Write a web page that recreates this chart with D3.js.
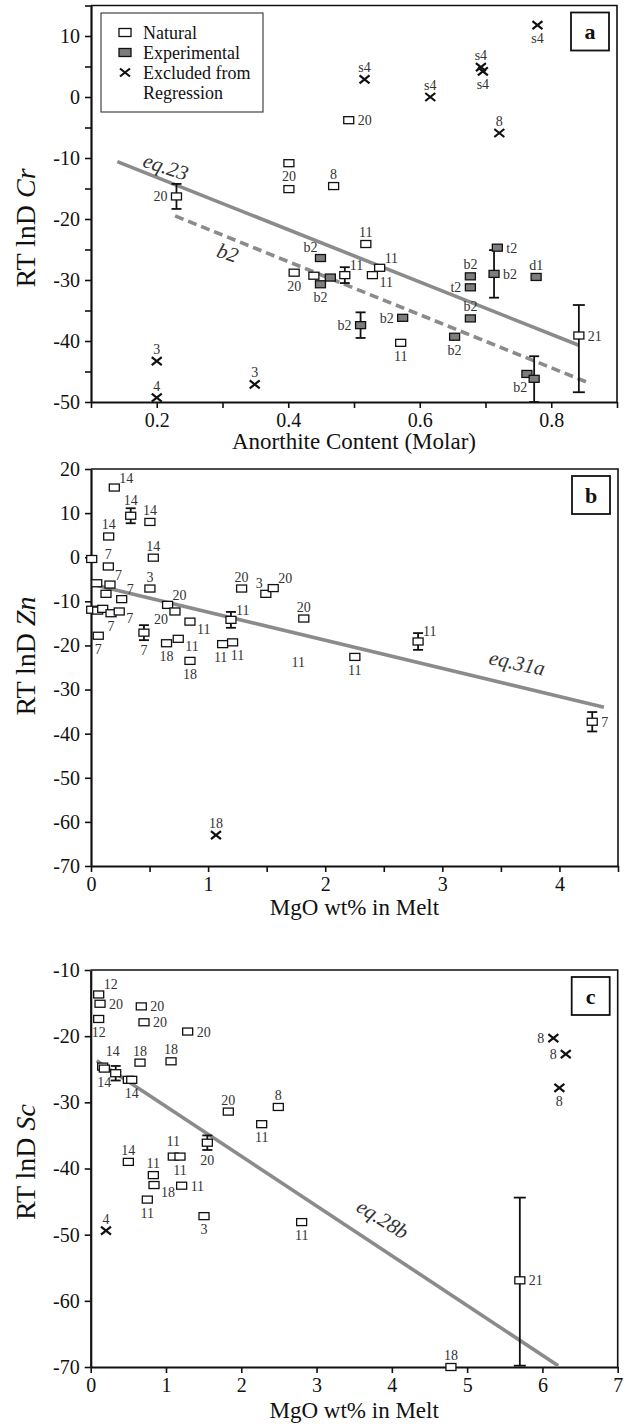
<!DOCTYPE html>
<html><head><meta charset="utf-8">
<script src="https://cdn.jsdelivr.net/npm/d3@7"></script>
<style>
body{margin:0;background:#fff}
svg{display:block}
text{font-family:"Liberation Serif","Times New Roman",serif}
</style>
</head><body>
<svg id="chart" width="627" height="1424"></svg>
<script>
// ---------------- Panel a: Cr vs Anorthite ----------------
const crXTicks = [0.1,0.2,0.3,0.4,0.5,0.6,0.7,0.8,0.9];
const crXTickLabels = ["0.2","0.4","0.6","0.8"];
const crYTicks = [-50,-45,-40,-35,-30,-25,-20,-15,-10,-5,0,5,10,15];
const crYTickLabels = ["-50","-40","-30","-20","-10","0","10"];
const crNatural = [
  [0.230,-16.3,"20"],[0.401,-10.85,"20"],[0.401,-15.1,""],[0.492,-3.8,"20"],[0.469,-14.6,"8"],
  [0.409,-28.8,"20"],[0.439,-29.3,""],[0.486,-29.2,"11"],[0.518,-24.1,"11"],[0.539,-28.0,"11"],
  [0.528,-29.2,"11"],[0.571,-40.3,"11"],[0.842,-39.1,"21"]];
const crNaturalSide = ["l","b","","r","a","b","","ar","a","ar","br","b","r"];
const crExperimental = [
  [0.449,-26.4,"b2"],[0.449,-30.7,"b2"],[0.464,-29.6,""],[0.510,-37.4,"b2"],[0.574,-36.2,"b2"],
  [0.653,-39.3,"b2"],[0.677,-36.3,"b2"],[0.677,-29.4,"b2"],[0.677,-31.2,"t2"],[0.713,-29.0,"b2"],
  [0.718,-24.7,"t2"],[0.777,-29.5,"d1"],[0.763,-45.4,""],[0.774,-46.2,"b2"]];
const crExperimentalSide = ["al","b","","l","l","b","a","a","l","r","r","a","","bl"];
const crExcluded = [
  [0.2,-43.3,"3"],[0.2,-49.3,"4"],[0.349,-47.1,"3"],[0.516,2.9,"s4"],[0.616,0,"s4"],
  [0.693,4.9,"s4"],[0.696,4.2,"s4"],[0.779,11.8,"s4"],[0.721,-5.9,"8"]];
const crExcludedSide = ["a","a","a","a","a","a","b","b","a"];
// error bars: x, y, minus, plus
const crErrors = [
  [0.230,-16.3,2.05,2.05],[0.486,-29.2,1.3,1.3],[0.842,-39.1,9.3,5.0],
  [0.510,-37.4,2.1,2.1],[0.713,-29.0,3.9,3.9],[0.774,-46.2,3.8,3.7]];
const crLineEq23 = [[0.14,-10.6],[0.842,-40.7]];
const crLineB2 = [[0.228,-19.5],[0.860,-47.0]];
const crLineLabels = [["eq.23",0.214,-11.4],["b2",0.308,-25.5]];
const legendLabels = ["Natural","Experimental","Excluded from","Regression"];

// ---------------- Panel b: Zn vs MgO ----------------
const znXTicks = [0,0.5,1,1.5,2,2.5,3,3.5,4,4.5];
const znXTickLabels = ["0","1","2","3","4"];
const znYTicks = [-70,-60,-50,-40,-30,-20,-10,0,10,20];
const znYTickLabels = ["-70","-60","-50","-40","-30","-20","-10","0","10","20"];
const znNatural = [
  [0.199,15.8,"14"],[0.339,9.4,"14"],[0.503,8.0,"14"],[0.151,4.7,"14"],[0.532,-0.1,"14"],
  [0.006,-0.4,""],[0.148,-2.1,"7"],[0.049,-5.9,""],[0.162,-6.2,"7"],[0.128,-8.3,""],
  [0.262,-9.5,"7"],[0.503,-7.1,"3"],[0.006,-11.9,""],[0.057,-12.1,""],[0.100,-11.7,""],
  [0.171,-12.7,"7"],[0.241,-12.3,"7"],[0.062,-17.8,"7"],[0.452,-17.1,"7"],[0.654,-10.8,"20"],
  [0.717,-12.3,"20"],[0.845,-14.6,"11"],[0.645,-19.5,"18"],[0.745,-18.5,"11"],[0.845,-23.5,"18"],
  [1.195,-14.2,"11"],[1.124,-19.7,"11"],[1.209,-19.3,"11"],[1.286,-7.1,"20"],[1.493,-8.3,"3"],
  [1.556,-7.0,"20"],[1.817,-13.9,"20"],[2.793,-19.1,"11"],[2.253,-22.6,"11"],[4.28,-37.3,"7"]];
const znNaturalSide = ["ar","A","a","a","a","","a","","ar","","ar","a","","","",
  "b","br","b","B","ar","bl","br","b","br","b","ar","bL","bR","a","al","ar","a","ar","b","r"];
const znExcluded = [[1.067,-63,"18"]];
const znExcludedSide = ["a"];
const znLooseLabels = [[1.77,-26.4,"11"]];
const znErrors = [[0.339,9.4,1.7,1.7],[0.452,-17.1,1.7,1.7],[1.195,-14.2,1.8,1.8],[2.793,-19.1,1.9,1.9],[4.28,-37.3,2.2,2.2]];
const znLineEq31a = [[0.006,-6.1],[4.38,-34.0]];
const znLineLabels = [["eq.31a",3.64,-23.9]];

// ---------------- Panel c: Sc vs MgO ----------------
const scXTicks = [0,1,2,3,4,5,6,7];
const scXTickLabels = ["0","1","2","3","4","5","6","7"];
const scYTicks = [-70,-60,-50,-40,-30,-20,-10];
const scYTickLabels = ["-70","-60","-50","-40","-30","-20","-10"];
const scNatural = [
  [0.106,-13.7,"12"],[0.124,-15.1,"20"],[0.106,-17.4,"12"],[0.672,-15.5,"20"],[0.708,-17.9,"20"],
  [1.288,-19.3,"20"],[0.159,-24.6,"14"],[0.181,-24.9,"14"],[0.332,-25.6,""],[0.500,-26.6,""],
  [0.545,-26.6,"14"],[0.655,-24.0,"18"],[1.067,-23.8,"18"],[1.828,-31.4,"20"],[2.492,-30.7,"8"],
  [2.271,-33.3,"11"],[1.549,-36.1,"20"],[1.097,-38.2,"11"],[1.186,-38.2,"11"],[0.500,-39.0,"14"],
  [0.832,-41.0,"11"],[0.841,-42.5,"18"],[1.208,-42.6,"11"],[0.752,-44.7,"11"],[1.505,-47.2,"3"],
  [2.802,-48.1,"11"],[5.70,-56.9,"21"],[4.785,-70,"18"]];
const scNaturalSide = ["ar","r","b","r","r","r","AR","b","","","b","a","a","a","a",
  "b","B","A","b","a","a","br","r","b","b","b","r","a"];
const scExcluded = [[0.203,-49.4,"4"],[6.145,-20.3,"8"],[6.31,-22.7,"8"],[6.225,-27.8,"8"]];
const scExcludedSide = ["a","l","l","b"];
const scErrors = [[0.332,-25.6,1.1,1.1],[1.549,-36.1,1.1,1.1],[5.70,-56.9,12.9,12.5]];
const scLineEq28b = [[0.08,-23.7],[6.21,-69.8]];
const scLineLabels = [["eq.28b",3.88,-47.6]];

// ---------------- drawing ----------------
const svg = d3.select("#chart");
const SIDES = {
  a:[0,-7,"middle"], A:[0,-11,"middle"], AR:[3,-11,"start"], b:[0,18,"middle"], B:[0,22,"middle"],
  bL:[-2,18,"middle"], bR:[5,18,"middle"],
  l:[-9,5,"end"], r:[9,5,"start"], ar:[5,-5,"start"], al:[-3,-6,"end"],
  br:[7,12,"start"], bl:[-7,13,"end"]
};
const LINE_GREY = "#8b8b8b";

function drawPanel(P) {
  const x = d3.scaleLinear().domain(P.xDomain).range([P.left, P.right]);
  const y = d3.scaleLinear().domain(P.yDomain).range([P.bottom, P.top]);
  const g = svg.append("g");

  g.append("path")
    .attr("d", `M${P.left},${P.top}H${P.right}V${P.bottom}`)
    .attr("fill","none").attr("stroke","#111").attr("stroke-width",1.6);

  const styleAxis = sel => {
    sel.select(".domain").attr("stroke","#111").attr("stroke-width",2.2);
    sel.selectAll(".tick line").attr("stroke","#111").attr("stroke-width",1.6);
    sel.selectAll(".tick text").attr("fill","#111").style("font-size","20px")
       .style("font-family",'"Liberation Serif",serif');
  };
  const xa = d3.axisBottom(x).tickValues(P.xTicks).tickSize(6).tickSizeOuter(0).tickPadding(5)
    .tickFormat(d => { const s = P.xFmt(d); return P.xLabels.includes(s) ? s : ""; });
  const ya = d3.axisLeft(y).tickValues(P.yTicks).tickSize(6).tickSizeOuter(0).tickPadding(5)
    .tickFormat(d => { const s = String(d); return P.yLabels.includes(s) ? s : ""; });
  g.append("g").attr("transform",`translate(0,${P.bottom})`).call(xa).call(styleAxis);
  g.append("g").attr("transform",`translate(${P.left},0)`).call(ya).call(styleAxis);

  g.append("text").attr("x",(P.left+P.right)/2).attr("y",P.xTitleY)
    .attr("text-anchor","middle").style("font-size","23px").attr("fill","#111").text(P.xTitle);
  const yt = g.append("text")
    .attr("transform",`translate(35,${P.yTitleC}) rotate(-90)`)
    .attr("text-anchor","middle").style("font-size","28px").attr("fill","#111");
  yt.append("tspan").text("RT lnD ");
  yt.append("tspan").style("font-style","italic").text(P.yElem);

  const line = d3.line().x(d => x(d[0])).y(d => y(d[1]));
  P.lines.forEach(L => {
    g.append("path").attr("d", line(L.pts)).attr("fill","none")
      .attr("stroke",LINE_GREY).attr("stroke-width",3.6)
      .attr("stroke-dasharray", L.dashed ? "9,5" : null);
  });
  P.lineLabels.forEach(lab => {
    const pts = P.lines[lab.line].pts;
    const ang = Math.atan2(y(pts[1][1]) - y(pts[0][1]), x(pts[1][0]) - x(pts[0][0])) * 180 / Math.PI;
    g.append("text")
      .attr("transform",`translate(${x(lab.d[1])},${y(lab.d[2])}) rotate(${ang * lab.k})`)
      .attr("text-anchor","middle").attr("dy","0.35em")
      .style("font-size","21px").style("font-style","italic").attr("fill","#333")
      .text(lab.d[0]);
  });

  P.errors.forEach(e => {
    const cx = x(e[0]), y1 = y(e[1]-e[2]), y2 = y(e[1]+e[3]);
    const hw = (y1 - y2) > 60 ? 6 : 5;
    const eg = g.append("g").attr("stroke","#111").attr("stroke-width",1.8);
    eg.append("line").attr("x1",cx).attr("x2",cx).attr("y1",y1).attr("y2",y2);
    eg.append("line").attr("x1",cx-hw).attr("x2",cx+hw).attr("y1",y1).attr("y2",y1);
    eg.append("line").attr("x1",cx-hw).attr("x2",cx+hw).attr("y1",y2).attr("y2",y2);
  });

  const label = (d, side) => {
    if (!d[2] || !side) return;
    const s = SIDES[side];
    g.append("text").attr("x", x(d[0]) + s[0]).attr("y", y(d[1]) + s[1])
      .attr("text-anchor", s[2]).style("font-size","14px").attr("fill","#333").text(d[2]);
  };

  const sq = (arr, fill) => {
    g.selectAll(null).data(arr).enter().append("rect")
      .attr("x", d => x(d[0]) - 5).attr("y", d => y(d[1]) - 3.5)
      .attr("width",10).attr("height",7)
      .attr("fill",fill).attr("stroke","#111").attr("stroke-width",1.3);
  };
  sq(P.natural, "#fff");
  if (P.experimental) sq(P.experimental, "#7d7d7d");
  g.selectAll(null).data(P.excluded).enter().append("path")
    .attr("d", d => { const cx = x(d[0]), cy = y(d[1]);
      return `M${cx-5},${cy-4}L${cx+5},${cy+4}M${cx-5},${cy+4}L${cx+5},${cy-4}`; })
    .attr("stroke","#111").attr("stroke-width",2.2).attr("fill","none");

  P.natural.forEach((d,i) => label(d, P.naturalSide[i]));
  if (P.experimental) P.experimental.forEach((d,i) => label(d, P.experimentalSide[i]));
  P.excluded.forEach((d,i) => label(d, P.excludedSide[i]));
  (P.loose || []).forEach(d => label(d, "a"));

  const bw = 38, bh = 38;
  const bx = P.right - 8 - bw, by = P.top + 7;
  g.append("rect").attr("x",bx).attr("y",by).attr("width",bw).attr("height",bh)
    .attr("fill","#fff").attr("stroke","#111").attr("stroke-width",1.8);
  g.append("text").attr("x",bx+bw/2).attr("y",by+bh/2).attr("dy","0.35em")
    .attr("text-anchor","middle").style("font-size","22px").style("font-weight","bold")
    .attr("fill","#111").text(P.letter);
  return {g, x, y};
}

const A = drawPanel({
  left:91, right:617, top:5.5, bottom:402, xDomain:[0.1,0.9], yDomain:[-50,15],
  xTicks:crXTicks, xLabels:crXTickLabels, xFmt:d3.format(".1f"),
  yTicks:crYTicks, yLabels:crYTickLabels,
  xTitle:"Anorthite Content (Molar)", xTitleY:449, yElem:"Cr", yTitleC:228,
  natural:crNatural, naturalSide:crNaturalSide,
  experimental:crExperimental, experimentalSide:crExperimentalSide,
  excluded:crExcluded, excludedSide:crExcludedSide, errors:crErrors,
  lines:[{pts:crLineEq23, dashed:false},{pts:crLineB2, dashed:true}],
  lineLabels:[{d:crLineLabels[0], line:0, k:0.85},{d:crLineLabels[1], line:1, k:0.85}],
  letter:"a"
});

(function(){
  const g = A.g;
  g.append("rect").attr("x",101).attr("y",13).attr("width",162).attr("height",99)
    .attr("fill","#fff").attr("stroke","#444").attr("stroke-width",1.2);
  const rows = [32.5, 52.5, 72.5, 93];
  g.append("rect").attr("x",119).attr("y",rows[0]-4).attr("width",12).attr("height",8)
    .attr("fill","#fff").attr("stroke","#111").attr("stroke-width",1.3);
  g.append("rect").attr("x",119).attr("y",rows[1]-4).attr("width",12).attr("height",8)
    .attr("fill","#7d7d7d").attr("stroke","#111").attr("stroke-width",1.3);
  g.append("path").attr("d",`M${120},${rows[2]-4}L${130},${rows[2]+4}M${120},${rows[2]+4}L${130},${rows[2]-4}`)
    .attr("stroke","#111").attr("stroke-width",2.2);
  legendLabels.forEach((t,i) => {
    g.append("text").attr("x",143).attr("y",rows[i]+6).style("font-size","18px")
      .attr("fill","#111").text(t);
  });
})();

drawPanel({
  left:91, right:618, top:469, bottom:866, xDomain:[0,4.5], yDomain:[-70,20],
  xTicks:znXTicks, xLabels:znXTickLabels, xFmt:d => String(d),
  yTicks:znYTicks, yLabels:znYTickLabels,
  xTitle:"MgO wt% in Melt", xTitleY:915, yElem:"Zn", yTitleC:656,
  natural:znNatural, naturalSide:znNaturalSide,
  excluded:znExcluded, excludedSide:znExcludedSide, errors:znErrors, loose:znLooseLabels,
  lines:[{pts:znLineEq31a, dashed:false}],
  lineLabels:[{d:znLineLabels[0], line:0, k:0.9}],
  letter:"b"
});

drawPanel({
  left:90.7, right:617.7, top:970, bottom:1367, xDomain:[0,7], yDomain:[-70,-10],
  xTicks:scXTicks, xLabels:scXTickLabels, xFmt:d => String(d),
  yTicks:scYTicks, yLabels:scYTickLabels,
  xTitle:"MgO wt% in Melt", xTitleY:1418, yElem:"Sc", yTitleC:1162,
  natural:scNatural, naturalSide:scNaturalSide,
  excluded:scExcluded, excludedSide:scExcludedSide, errors:scErrors,
  lines:[{pts:scLineEq28b, dashed:false}],
  lineLabels:[{d:scLineLabels[0], line:0, k:0.95}],
  letter:"c"
});
</script>
</body></html>
